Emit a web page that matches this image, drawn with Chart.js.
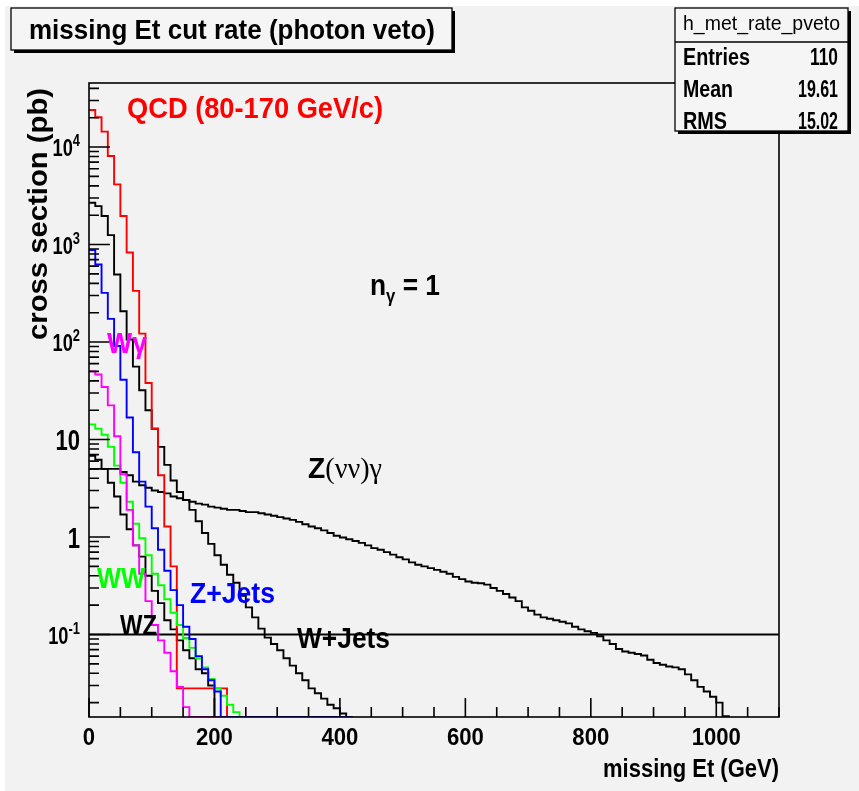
<!DOCTYPE html>
<html>
<head>
<meta charset="utf-8">
<title>missing Et cut rate (photon veto)</title>
<script src="https://cdn.jsdelivr.net/npm/chart.js@4.4.0/dist/chart.umd.min.js"></script>
<style>
  html, body { margin: 0; padding: 0; background: #ffffff; overflow: hidden; }
  #wrap { position: relative; width: 859px; height: 791px; }
</style>
</head>
<body>
<div id="wrap"><canvas id="myChart"></canvas></div>
<script>
// binning of the histograms (GeV)
const binWidth = 10;
const xMin = 0;
const xMax = 1100;
const xMajorStep = 200;
const xMinorStep = 50;

// log y range (pb)
const yMin = 0.01425;
const yMax = 45400;
const cutLevel = 0.1;

// cross section per 10 GeV bin (0 = empty bin)
const qcd = [24000, 20200, 14400, 8100, 4140, 1960, 830, 335, 122, 38,
  12.9, 4.3, 1.28, 0.50, 0.028, 0.028, 0.028, 0.028, 0.028, 0.028, 0.028, 0.028];

const wjets = [2680, 2480, 1960, 1250, 493, 207, 106, 56, 32, 20,
  12.9, 8.4, 5.5, 3.8, 2.9, 2.4, 1.9, 1.45, 1.1, 0.85,
  0.65, 0.52, 0.41, 0.34, 0.25, 0.19, 0.15, 0.115, 0.093, 0.08,
  0.069, 0.057, 0.048, 0.040, 0.034, 0.028, 0.025, 0.022, 0.019, 0.0175,
  0.0155, 0];

const zjets = [877, 625, 319, 173, 91, 41, 16.8, 7.4, 3.7, 2.05,
  1.23, 0.74, 0.45, 0.285, 0.20, 0.12, 0.09, 0.06, 0.044, 0.034,
  0.026, 0, 0, 0, 0, 0, 0, 0, 0, 0,
  0, 0, 0, 0, 0, 0, 0, 0, 0, 0,
  0, 0];

const wgamma = [50, 46.5, 34.6, 22.4, 10.8, 4.4, 1.9, 0.82, 0.42, 0.22,
  0.125, 0.087, 0.065, 0.042, 0.029, 0.018, 0, 0, 0, 0, 0];

const ww = [14.3, 12.9, 11.2, 8.4, 5.4, 3.6, 2.3, 1.37, 0.97, 0.65,
  0.42, 0.32, 0.23, 0.167, 0.125, 0.092, 0.073, 0.057, 0.046, 0.035,
  0.028, 0.0235, 0.019, 0.016];

const wz = [6.8, 6.2, 5.0, 3.6, 2.6, 1.7, 1.2, 0.82, 0.63, 0.40,
  0.28, 0.21, 0.14, 0.113, 0.087, 0.069, 0.057, 0.044, 0.040, 0.030];

const znng = [5.0, 5.0, 5.0, 5.0, 5.0, 4.65, 4.3, 3.7, 3.4, 3.2,
  3.0, 2.9, 2.8, 2.6, 2.5, 2.4, 2.3, 2.2, 2.15, 2.05,
  2.0, 1.95, 1.9, 1.9, 1.85, 1.8, 1.8, 1.75, 1.7, 1.65,
  1.6, 1.55, 1.5, 1.43, 1.35, 1.28, 1.23, 1.17, 1.1, 1.03,
  0.99, 0.95, 0.91, 0.87, 0.82, 0.77, 0.74, 0.70, 0.66, 0.62,
  0.59, 0.55, 0.52, 0.50, 0.48, 0.46, 0.44, 0.42, 0.39, 0.37,
  0.35, 0.34, 0.335, 0.325, 0.30, 0.28, 0.26, 0.24, 0.22, 0.19,
  0.175, 0.16, 0.15, 0.145, 0.14, 0.135, 0.13, 0.12, 0.113, 0.108,
  0.104, 0.096, 0.087, 0.08, 0.071, 0.067, 0.065, 0.063, 0.061, 0.055,
  0.051, 0.049, 0.047, 0.046, 0.044, 0.039, 0.034, 0.029, 0.026, 0.023,
  0.020, 0.0145];

// axis labels
const xLabels = [0, 200, 400, 600, 800, 1000];
const yLabelVals = [10000, 1000, 100, 10, 1, 0.1];
const yLabelBase = ['10', '10', '10', '10', '1', '10'];
const yLabelExp = ['4', '3', '2', '', '', '-1'];

// stats box
const statsTitle = 'h_met_rate_pveto';
const statsNames = ['Entries', 'Mean', 'RMS'];
const statsValues = ['110', '19.61', '15.02'];

const SANS = '"Liberation Sans", Arial, Helvetica, sans-serif';
const SERIF = '"Liberation Serif", "Times New Roman", serif';

function histPoints(values) {
  const pts = values.map((v, i) => ({ x: xMin + i * binWidth, y: v > 0 ? v : yMin }));
  pts.push({ x: xMin + values.length * binWidth, y: yMin });
  return pts;
}

function hist(label, values, color) {
  return {
    label: label,
    data: histPoints(values),
    borderColor: color,
    borderWidth: 1.9,
    stepped: 'before',
    pointRadius: 0,
    fill: false,
    tension: 0,
    borderJoinStyle: 'miter'
  };
}

// draws text runs squeezed/stretched to a given width
function runsText(ctx, runs, x, y, width, align) {
  ctx.save();
  let w = 0;
  runs.forEach(r => { ctx.font = r.font; r.w = ctx.measureText(r.t).width; w += r.w; });
  const s = width ? width / w : 1;
  let x0 = x;
  if (align === 'right') x0 = x - w * s;
  if (align === 'center') x0 = x - w * s / 2;
  ctx.translate(x0, y);
  ctx.scale(s, 1);
  let cx = 0;
  runs.forEach(r => {
    ctx.font = r.font;
    ctx.textAlign = 'left';
    ctx.textBaseline = 'alphabetic';
    ctx.fillText(r.t, cx, r.dy || 0);
    cx += r.w;
  });
  ctx.restore();
}

function shadowBox(ctx, x, y, w, h) {
  ctx.fillStyle = '#000';
  ctx.fillRect(x + 3, y + h, w, 3);
  ctx.fillRect(x + w, y + 3, 3, h);
  ctx.fillStyle = '#f5f5f5';
  ctx.fillRect(x, y, w, h);
  ctx.strokeStyle = '#000';
  ctx.lineWidth = 1.3;
  ctx.strokeRect(x, y, w, h);
}

const rootStyle = {
  id: 'rootStyle',
  beforeDraw(chart) {
    const ctx = chart.ctx;
    ctx.save();
    ctx.fillStyle = '#ffffff';
    ctx.fillRect(0, 0, chart.width, chart.height);
    ctx.fillStyle = '#f2f2f2';
    ctx.fillRect(5, 6, chart.width - 5, chart.height - 6);
    ctx.restore();
  },
  afterDatasetsDraw(chart) {
    const ctx = chart.ctx;
    const a = chart.chartArea;
    const xs = chart.scales.x;
    const ys = chart.scales.y;
    ctx.save();
    ctx.strokeStyle = '#000';
    ctx.lineWidth = 1.6;
    ctx.strokeRect(a.left, a.top, a.right - a.left, a.bottom - a.top);
    ctx.beginPath();
    for (let v = xMin; v <= xMax; v += xMinorStep) {
      const px = xs.getPixelForValue(v);
      const len = v % xMajorStep === 0 ? 19 : 10;
      ctx.moveTo(px, a.bottom);
      ctx.lineTo(px, a.bottom - len);
    }
    for (let e = -2; e <= 4; e++) {
      for (let m = 1; m <= 9; m++) {
        const v = m * Math.pow(10, e);
        if (v < yMin || v > yMax) continue;
        const py = ys.getPixelForValue(v);
        ctx.moveTo(a.left, py);
        ctx.lineTo(a.left + (m === 1 ? 21 : 10), py);
      }
    }
    ctx.stroke();
    ctx.restore();
  },
  afterDraw(chart) {
    const ctx = chart.ctx;
    const a = chart.chartArea;
    const xs = chart.scales.x;
    const ys = chart.scales.y;
    ctx.save();
    ctx.fillStyle = '#000';

    // x tick labels
    xLabels.forEach(v => {
      const s = String(v);
      runsText(ctx, [{ t: s, font: 'bold 24px ' + SANS }], xs.getPixelForValue(v), 745, s.length * 12.3, 'center');
    });

    // y tick labels
    yLabelVals.forEach((v, i) => {
      const py = ys.getPixelForValue(v);
      let runs;
      if (yLabelExp[i]) {
        runs = [{ t: yLabelBase[i], font: 'bold 24px ' + SANS },
                { t: yLabelExp[i], font: 'bold 17px ' + SANS, dy: -10 }];
      } else {
        runs = [{ t: yLabelBase[i], font: 'bold 29px ' + SANS }];
      }
      ctx.save();
      ctx.translate(80, py + (yLabelExp[i] ? 9 : 10.5));
      ctx.scale(0.76, 1);
      runsText(ctx, runs, 0, 0, null, 'right');
      ctx.restore();
    });

    // axis titles
    runsText(ctx, [{ t: 'missing Et (GeV)', font: 'bold 25px ' + SANS }], a.right, 777, 176, 'right');
    ctx.save();
    ctx.translate(47, 214);
    ctx.rotate(-Math.PI / 2);
    runsText(ctx, [{ t: 'cross section (pb)', font: 'bold 27px ' + SANS }], 0, 0, 252, 'center');
    ctx.restore();

    // labels inside the frame
    const LF = 'bold 30px ' + SANS;
    ctx.fillStyle = '#ff0000';
    runsText(ctx, [{ t: 'QCD (80-170 GeV/c)', font: LF }], 127, 118, 256, 'left');
    ctx.fillStyle = '#ff00ff';
    runsText(ctx, [{ t: 'W', font: LF }, { t: 'γ', font: LF }], 107, 353, 40, 'left');
    ctx.fillStyle = '#00ff00';
    runsText(ctx, [{ t: 'WW', font: LF }], 97, 588, 48, 'left');
    ctx.fillStyle = '#0000ff';
    runsText(ctx, [{ t: 'Z+Jets', font: LF }], 190, 603, 85, 'left');
    ctx.fillStyle = '#000';
    runsText(ctx, [{ t: 'WZ', font: LF }], 120, 635, 37, 'left');
    runsText(ctx, [{ t: 'W+Jets', font: LF }], 297, 648, 93, 'left');
    runsText(ctx, [{ t: 'Z', font: LF }, { t: '(νν)γ', font: '30px ' + SERIF }], 308, 478, 74, 'left');
    runsText(ctx, [{ t: 'n', font: LF },
                   { t: 'γ', font: 'bold 19px ' + SANS, dy: 7 },
                   { t: ' = 1', font: LF }], 370, 295, 70, 'left');

    // title box
    shadowBox(ctx, 11, 8, 441, 42);
    ctx.fillStyle = '#000';
    runsText(ctx, [{ t: 'missing Et cut rate (photon veto)', font: 'bold 28px ' + SANS }], 29, 39, 406, 'left');

    // stats box
    shadowBox(ctx, 675, 8, 173, 123);
    ctx.beginPath();
    ctx.moveTo(675, 42);
    ctx.lineTo(848, 42);
    ctx.stroke();
    ctx.fillStyle = '#000';
    runsText(ctx, [{ t: statsTitle, font: '21px ' + SANS }], 761.5, 30, 157, 'center');
    const nameW = [67, 50, 44];
    const valW = [28, 40, 40];
    statsNames.forEach((n, i) => {
      const base = 65 + i * 32;
      runsText(ctx, [{ t: n, font: 'bold 23px ' + SANS }], 683, base, nameW[i], 'left');
      runsText(ctx, [{ t: statsValues[i], font: 'bold 23px ' + SANS }], 838, base, valW[i], 'right');
    });
    ctx.restore();
  }
};

const ctx = document.getElementById('myChart').getContext('2d');
const myChart = new Chart(ctx, {
  type: 'line',
  data: {
    datasets: [
      hist('Z+Jets', zjets, '#0000ff'),
      hist('Wγ', wgamma, '#ff00ff'),
      hist('WW', ww, '#00ff00'),
      hist('QCD (80-170 GeV/c)', qcd, '#ff0000'),
      hist('W+Jets', wjets, '#000000'),
      hist('WZ', wz, '#000000'),
      hist('Z(νν)γ', znng, '#000000'),
      {
        label: 'cut',
        data: [{ x: xMin, y: cutLevel }, { x: xMax, y: cutLevel }],
        borderColor: '#000000',
        borderWidth: 1.9,
        pointRadius: 0,
        fill: false
      }
    ]
  },
  options: {
    responsive: true,
    maintainAspectRatio: false,
    animation: false,
    layout: { padding: { left: 89, right: 80, top: 83, bottom: 74 } },
    plugins: {
      legend: { display: false },
      tooltip: { enabled: false },
      title: { display: false }
    },
    scales: {
      x: { type: 'linear', min: xMin, max: xMax, display: false },
      y: { type: 'logarithmic', min: yMin, max: yMax, display: false }
    }
  },
  plugins: [rootStyle]
});
</script>
</body>
</html>
